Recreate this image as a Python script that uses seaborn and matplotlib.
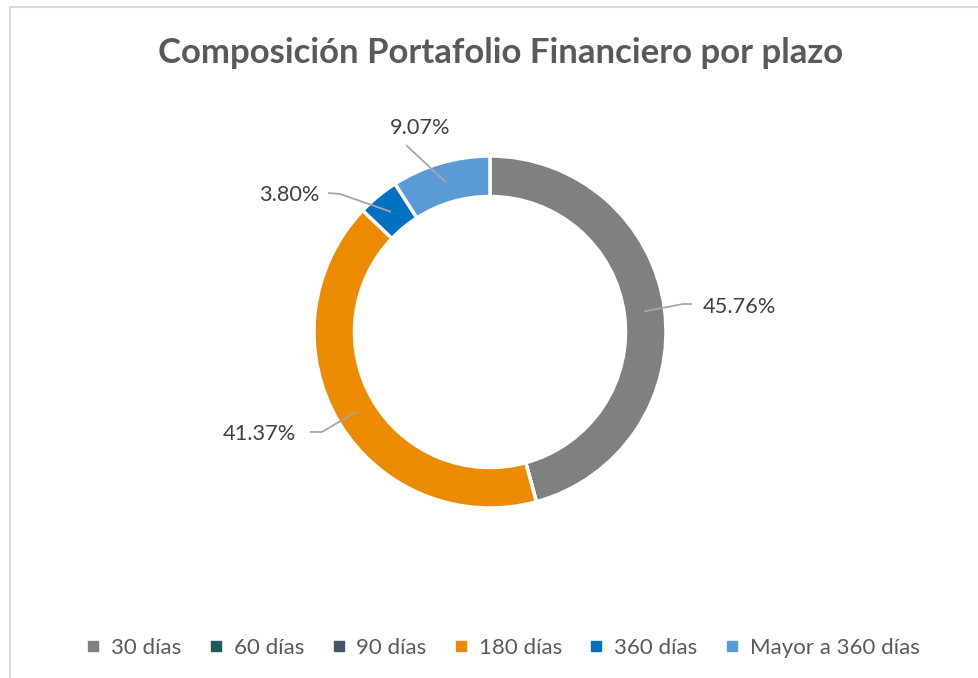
import numpy as np
import matplotlib.pyplot as plt
from matplotlib.lines import Line2D
from matplotlib.patches import Rectangle
import seaborn as sns

categorias = ["30 días", "60 días", "90 días", "180 días", "360 días", "Mayor a 360 días"]
porcentajes = [45.76, 0.0, 0.0, 41.37, 3.80, 9.07]
colores = ["#808080", "#1E5B5B", "#44546A", "#ED8B00", "#0070C0", "#5B9BD5"]
titulo = "Composición Portafolio Financiero por plazo"

sns.set_theme(style="white")
plt.rcParams["font.family"] = ["Lato", "DejaVu Sans"]

W, H = 979, 678
fig = plt.figure(figsize=(W / 100, H / 100), dpi=100)

# marco del gráfico (estilo Excel)
fig.patches.append(Rectangle((10 / W, -0.1), 1.2, 1 - 7 / H + 0.1, transform=fig.transFigure,
                             fill=False, edgecolor="#D9D9D9", linewidth=1.5))

# ejes cuadrados: radio 1 = 176 px, centro en (490, 332)
r = 176
cx, cy = 490, H - 332
ax = fig.add_axes([(cx - r) / W, (cy - r) / H, 2 * r / W, 2 * r / H])

ancho = 0.23
wedges, _ = ax.pie(porcentajes, colors=colores, startangle=90, counterclock=False,
                   radius=1, wedgeprops=dict(width=ancho, edgecolor="white", linewidth=2.5))
ax.set_xlim(-1, 1)
ax.set_ylim(-1, 1)
ax.set_aspect("equal")
ax.axis("off")

# etiquetas con líneas guía: (posición del texto, codo, alineación)
etiquetas = {
    0: ((1.21, 0.142), [(1.097, 0.159), (1.148, 0.159)], "left"),
    3: ((-1.10, -0.581), [(-0.955, -0.568), (-1.023, -0.568)], "right"),
    4: ((-1.14, 0.778), [(-0.852, 0.784), (-0.92, 0.790)], "center"),
    5: ((-0.398, 1.159), [(-0.477, 1.062)], "center"),
}

total = sum(porcentajes)
inicio = 90.0
for i, (v, w) in enumerate(zip(porcentajes, wedges)):
    ang = inicio - v / total * 360 / 2
    inicio -= v / total * 360
    if i not in etiquetas:
        continue
    pos, codo, ha = etiquetas[i]
    rm = 1 - ancho / 2
    p0 = (rm * np.cos(np.radians(ang)), rm * np.sin(np.radians(ang)))
    pts = [p0] + codo
    ax.plot([p[0] for p in pts], [p[1] for p in pts], color="#A6A6A6", lw=1.3,
            clip_on=False, solid_capstyle="butt")
    ax.text(pos[0], pos[1], f"{v:.2f}%", ha=ha, va="center",
            fontsize=15.7, color="#404040", clip_on=False)

fig.text(501 / W, 1 - 53 / H, titulo, ha="center", va="center",
         fontsize=25, fontweight="bold", color="#595959")

handles = [Line2D([0], [0], marker="s", linestyle="none", markersize=7,
                  markerfacecolor=c, markeredgecolor=c) for c in colores]
fig.legend(handles, categorias, loc="center", bbox_to_anchor=(501 / W, 1 - 648 / H),
           ncol=6, frameon=False, fontsize=16, labelcolor="#595959",
           handletextpad=0.3, columnspacing=1.05, handlelength=1.0)

fig.savefig("out.png", dpi=100, facecolor="white")
